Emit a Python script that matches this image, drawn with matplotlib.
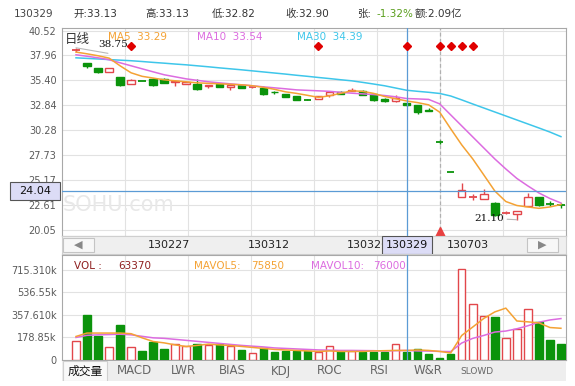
import matplotlib
matplotlib.use("Agg")
import matplotlib.pyplot as plt
import matplotlib.transforms as mtransforms
from matplotlib.patches import Rectangle
import numpy as np

plt.rcParams["font.family"] = ["DejaVu Sans", "Noto Sans CJK SC"]

# ---- values, one entry per trading day ----
opens = [38.50, 37.18, 36.66, 36.25, 35.70, 35.00, 35.33, 35.53, 35.53, 35.20,
         35.05, 35.00, 34.80, 35.00, 34.72, 34.88, 34.70, 34.61, 34.26, 33.99,
         33.75, 33.36, 33.51, 33.92, 34.26, 34.30, 34.33, 34.02, 33.51, 33.24,
         33.13, 32.89, 32.35, 29.06, 26.02, 23.40, 23.45, 23.20, 22.85, 21.80,
         21.68, 22.51, 23.41, 22.75, 22.63]
highs = [38.75, 37.20, 36.70, 36.70, 35.75, 35.50, 35.35, 35.65, 35.60, 35.40,
         35.28, 35.50, 34.98, 35.05, 34.98, 34.90, 34.76, 34.85, 34.35, 34.02,
         33.78, 33.45, 33.85, 34.30, 34.30, 34.60, 34.40, 34.05, 33.55, 33.92,
         33.13, 32.92, 32.60, 29.25, 26.02, 24.84, 23.74, 24.26, 22.90, 21.95,
         22.03, 23.81, 23.45, 23.05, 22.82]
lows = [38.35, 36.66, 36.20, 36.25, 34.85, 35.00, 35.25, 34.80, 35.10, 34.85,
        35.00, 34.40, 34.60, 34.70, 34.40, 34.58, 34.66, 33.90, 34.05, 33.65,
        33.38, 33.28, 33.50, 33.70, 33.98, 34.28, 33.88, 33.30, 33.20, 33.20,
        32.82, 32.00, 32.25, 28.85, 26.00, 23.40, 23.12, 23.20, 21.50, 21.65,
        21.10, 22.48, 22.55, 22.50, 22.30]
closes = [38.55, 36.83, 36.31, 36.66, 34.95, 35.46, 35.27, 34.88, 35.18, 35.35,
          35.25, 34.50, 34.90, 34.77, 34.95, 34.61, 34.73, 33.99, 34.16, 33.68,
          33.41, 33.32, 33.82, 34.26, 34.02, 34.40, 33.92, 33.41, 33.24, 33.58,
          32.90, 32.20, 32.27, 29.04, 26.00, 24.13, 23.50, 23.74, 21.58, 21.85,
          22.03, 23.47, 22.58, 22.70, 22.58]
ma5 = [38.31, 38.13, 37.93, 37.69, 36.90, 36.18, 35.82, 35.64, 35.46, 35.36,
       35.26, 35.15, 35.10, 35.05, 35.00, 34.95, 34.85, 34.69, 34.49, 34.23,
       34.07, 33.87, 33.66, 33.82, 34.07, 34.33, 34.28, 34.07, 33.75, 33.52,
       33.29, 33.12, 32.89, 32.14, 30.43, 28.78, 27.34, 25.70, 24.05, 22.97,
       22.56, 22.41, 22.27, 22.41, 22.66]
ma10 = [38.03, 37.88, 37.72, 37.52, 37.21, 36.90, 36.59, 36.28, 35.98, 35.77,
        35.56, 35.41, 35.26, 35.15, 35.05, 34.95, 34.85, 34.74, 34.64, 34.54,
        34.43, 34.38, 34.33, 34.28, 34.18, 34.09, 34.02, 33.95, 33.85, 33.72,
        33.54, 33.50, 33.45, 32.99, 31.86, 30.73, 29.60, 28.47, 27.34, 26.31,
        25.34, 24.57, 23.85, 23.28, 22.82]
ma30 = [37.72, 37.66, 37.60, 37.54, 37.48, 37.42, 37.34, 37.25, 37.17, 37.08,
        37.00, 36.90, 36.80, 36.69, 36.59, 36.49, 36.38, 36.27, 36.16, 36.05,
        35.93, 35.82, 35.70, 35.59, 35.47, 35.36, 35.20, 35.03, 34.85, 34.62,
        34.39, 34.28, 34.18, 34.06, 33.80, 33.40, 32.98, 32.57, 32.16, 31.75,
        31.34, 30.93, 30.52, 30.10, 29.63]
# volume in thousands
volumes = [152, 361, 187, 102, 275, 102, 72, 142, 88, 126,
           115, 126, 120, 124, 115, 80, 54, 94, 67, 72,
           75, 75, 67, 112, 72, 72, 67, 67, 64, 126,
           63.37, 88, 48, 18, 50, 719, 441, 353, 345, 174,
           249, 407, 299, 160, 128]
mavol5 = [187, 214, 214, 214, 214, 209, 176, 147, 136, 120,
          107, 116, 126, 120, 115, 108, 100, 92, 84, 80,
          76, 72, 68, 72, 68, 68, 68, 72, 74, 76,
          75.85, 80, 76, 68, 56, 195, 262, 330, 382, 412,
          310, 303, 295, 258, 252]
mavol10 = [179, 196, 200, 202, 205, 200, 188, 176, 172, 164,
           156, 148, 140, 132, 124, 116, 110, 104, 96, 92,
           88, 84, 80, 78, 76, 76, 75, 74, 72, 74,
           76.0, 72, 71, 68, 67, 135, 172, 195, 222, 230,
           248, 272, 300, 318, 329]

price_ticks = [20.05, 22.61, 25.17, 27.73, 30.28, 32.84, 35.40, 37.96, 40.52]
vol_ticks = [0, 178.85, 357.61, 536.55, 715.31]
vol_tick_labels = ["0", "178.85k", "357.610k", "536.55k", "715.310k"]
date_labels = ["130227", "130312", "130326", "130703"]
date_days = [8.4, 17.5, 26.5, 35.6]
tab_labels = ["成交量", "MACD", "LWR", "BIAS", "KDJ", "ROC", "RSI", "W&R", "SLOWD"]

cursor = 30              # day under the crosshair
cursor_date = "130329"
cursor_price = 24.04     # horizontal crosshair level
change_text = "-1.32%"
amount_text = "2.09亿"
resume_day = 33          # dashed marker: trading resumed
signal_days = [5, 22, 30, 33, 34, 35, 36]

RED = "#e2474b"
GREEN = "#0b930b"
C_MA5 = "#f4a234"
C_MA10 = "#dc6ce0"
C_MA30 = "#3ec6ea"
C_CROSS = "#5b9bd5"
GRID = "#e2e2e2"
SPINE = "#a8a8a8"
LABEL = "#5a5a5a"

W, H = 575, 386
BODY = 0.68
XLIM = (-1.27, 44.46)

fig = plt.figure(figsize=(W / 100, H / 100), dpi=100, facecolor="white")


def px_axes(x0, y0, x1, y1):
    """Axes placed by pixel box (top-left origin)."""
    return fig.add_axes([x0 / W, 1 - y1 / H, (x1 - x0) / W, (y1 - y0) / H])


def ftext(x, y, s, **kw):
    kw.setdefault("va", "center")
    fig.text(x / W, 1 - y / H, s, **kw)


def style_panel(a):
    a.set_xlim(*XLIM)
    a.set_xticks(np.linspace(XLIM[0], XLIM[1], 9)[1:-1])
    a.grid(color=GRID, lw=0.8, zorder=0)
    a.set_axisbelow(True)
    a.tick_params(length=0, labelbottom=False, labelsize=7,
                  labelcolor=LABEL, pad=4)
    for s in a.spines.values():
        s.set_color(SPINE)
        s.set_linewidth(0.8)


x = np.arange(len(closes))
up = [c >= o for o, c in zip(opens, closes)]

# ---------------- price panel ----------------
ax = px_axes(62, 28, 566, 236)
style_panel(ax)
ax.set_ylim(19.43, 40.78)
ax.set_yticks(price_ticks)
ax.set_yticklabels([f"{v:.2f}" for v in price_ticks])

for i, (o, h, l, c) in enumerate(zip(opens, highs, lows, closes)):
    col = RED if up[i] else GREEN
    lo, hi = min(o, c), max(o, c)
    if l < lo:
        ax.vlines(i, l, lo, color=col, lw=1, zorder=3)
    if h > hi:
        ax.vlines(i, hi, h, color=col, lw=1, zorder=3)
    if hi - lo < 0.06:
        ax.hlines((o + c) / 2, i - BODY / 2, i + BODY / 2, color=col, lw=1.3, zorder=3)
    else:
        ax.bar(i, hi - lo, bottom=lo, width=BODY, color="white" if up[i] else col,
               edgecolor=col, lw=1, zorder=3)

ax.plot(x, ma30, color=C_MA30, lw=1.1, zorder=4)
ax.plot(x, ma10, color=C_MA10, lw=1.1, zorder=4)
ax.plot(x, ma5, color=C_MA5, lw=1.1, zorder=4)

# high / low annotations
imax = int(np.argmax(highs))
imin = int(np.argmin(lows))
ax.annotate("", xy=(imax, highs[imax]), xytext=(23, -4), textcoords="offset points",
            arrowprops=dict(arrowstyle="-", color="#b8b8b8", lw=0.8,
                            shrinkA=0, shrinkB=0), zorder=5)
ax.annotate(f"{highs[imax]:.2f}", xy=(imax, highs[imax]), xytext=(16, 2),
            textcoords="offset points", ha="left", va="center", fontsize=7.5,
            family="DejaVu Serif", color="#111", zorder=5)
ax.annotate(f"{lows[imin]:.2f}", xy=(imin, lows[imin]), xytext=(-9, 1),
            textcoords="offset points", ha="right", va="center", fontsize=7.5,
            family="DejaVu Serif", color="#111", zorder=5,
            arrowprops=dict(arrowstyle="-", color="#b8b8b8", lw=0.8,
                            shrinkA=0, shrinkB=0))

# event diamonds near the top, resume marker
top_tr = mtransforms.blended_transform_factory(ax.transData, ax.transAxes)
ax.plot(signal_days, [0.913] * len(signal_days), "D", color="#e00000",
        ms=4.3, transform=top_tr, zorder=6, clip_on=False)
ax.axvline(resume_day, color="#b0b0b0", lw=0.9, ls=(0, (3, 2)), zorder=2)
ax.plot([resume_day], [0.018], "^", color="#e84040", ms=6.5, transform=top_tr,
        zorder=6, clip_on=False)

# crosshair
ax.axvline(cursor, color=C_CROSS, lw=0.9, zorder=5)
ax.axhline(cursor_price, color=C_CROSS, lw=0.9, zorder=5)

# legend row
ftext(65, 40, "日线", fontsize=9, color="#333")
for lx, name, vals, col in [(108, "MA5", ma5, C_MA5), (197, "MA10", ma10, C_MA10),
                            (297, "MA30", ma30, C_MA30)]:
    ftext(lx, 37, f"{name}  {vals[cursor]:.2f}", fontsize=7.5, color=col)

# watermark
ftext(63, 205, "SOHU.com", fontsize=15, color="#e8e8e8")

# crosshair price box on the left
ppu = ax.bbox.height / (ax.get_ylim()[1] - ax.get_ylim()[0])
box_tr = mtransforms.blended_transform_factory(fig.transFigure, ax.transData)
fig.add_artist(Rectangle((10 / W, cursor_price - 9 / ppu), 50 / W, 18 / ppu,
                         transform=box_tr, facecolor="#dcdcf6", edgecolor="#555",
                         lw=0.8, zorder=10))
fig.text(35 / W, cursor_price, f"{cursor_price:.2f}", transform=box_tr,
         ha="center", va="center", fontsize=8, color="#111", zorder=11)

# ---------------- scroll strip ----------------
sb = px_axes(62, 236, 566, 254)
sb.set_xlim(*XLIM)
sb.set_ylim(0, 1)
sb.set_facecolor("#efefef")
sb.set_xticks([])
sb.set_yticks([])
for s in sb.spines.values():
    s.set_color("#cfcfcf")
    s.set_linewidth(0.8)
for bx0, sym in [(0.002, "◀"), (0.923, "▶")]:
    sb.add_patch(Rectangle((bx0, 0.1), 0.061, 0.8, transform=sb.transAxes,
                           facecolor="#f7f7f7", edgecolor="#c4c4c4", lw=0.8))
    sb.text(bx0 + 0.0305, 0.5, sym, transform=sb.transAxes, ha="center",
            va="center", fontsize=8, color="#888")
for d, lab in zip(date_days, date_labels):
    sb.text(d, 0.5, lab, ha="center", va="center", fontsize=8, color="#222", zorder=3)
half = 25 / 11.02
sb.add_patch(Rectangle((cursor - half, 0.0), 2 * half, 1.0, facecolor="#dcdcf6",
                       edgecolor="#555", lw=0.8, zorder=4))
sb.text(cursor, 0.5, cursor_date, ha="center", va="center", fontsize=8,
        color="#111", zorder=5)

# ---------------- volume panel ----------------
av = px_axes(62, 255, 566, 360)
style_panel(av)
av.set_ylim(0, 834)
av.set_yticks(vol_ticks)
av.set_yticklabels(vol_tick_labels)
av.bar(x, volumes, width=BODY, color=["white" if u else GREEN for u in up],
       edgecolor=[RED if u else GREEN for u in up], lw=1, zorder=3)
av.plot(x, mavol10, color=C_MA10, lw=1.1, zorder=4)
av.plot(x, mavol5, color=C_MA5, lw=1.1, zorder=4)
av.axvline(cursor, color=C_CROSS, lw=0.9, zorder=5)

ftext(74, 266, "VOL :", fontsize=7.5, color="#8e1e1e")
ftext(118, 266, f"{volumes[cursor] * 1000:.0f}", fontsize=7.5, color="#8e1e1e")
ftext(194, 266, "MAVOL5:", fontsize=7.5, color=C_MA5)
ftext(251, 266, f"{mavol5[cursor] * 1000:.0f}", fontsize=7.5, color=C_MA5)
ftext(311, 266, "MAVOL10:", fontsize=7.5, color=C_MA10)
ftext(373, 266, f"{mavol10[cursor] * 1000:.0f}", fontsize=7.5, color=C_MA10)

# ---------------- indicator tabs ----------------
tb = px_axes(62, 361, 566, 381)
tb.set_xlim(62, 566)
tb.set_ylim(0, 1)
tb.set_facecolor("#eeeeee")
tb.set_xticks([])
tb.set_yticks([])
for s in tb.spines.values():
    s.set_visible(False)
tb.add_patch(Rectangle((63, 0.0), 44, 1.0, facecolor="#f9f9f9",
                       edgecolor="#d0d0d0", lw=0.8))
for k, lab in enumerate(tab_labels):
    tb.text(85 + 49 * k, 0.5, lab, ha="center", va="center",
            fontsize=6.5 if lab == "SLOWD" else 8.5,
            color="#111" if k == 0 else "#666")

# ---------------- header ----------------
ftext(14, 14, cursor_date, fontsize=7.5, color="#444")
for hx, name, v in [(73, "开", opens[cursor]), (145, "高", highs[cursor]),
                    (212, "低", lows[cursor]), (285, "收", closes[cursor])]:
    ftext(hx, 14, f"{name}:{v:.2f}", fontsize=7.5, color="#333")
ftext(357, 14, "张:", fontsize=7.5, color="#333")
ftext(377, 14, change_text, fontsize=7.5, color="#5a9e1c")
ftext(415, 14, f"额:{amount_text}", fontsize=7.5, color="#333")

fig.savefig("out.png", dpi=100, facecolor="white")
